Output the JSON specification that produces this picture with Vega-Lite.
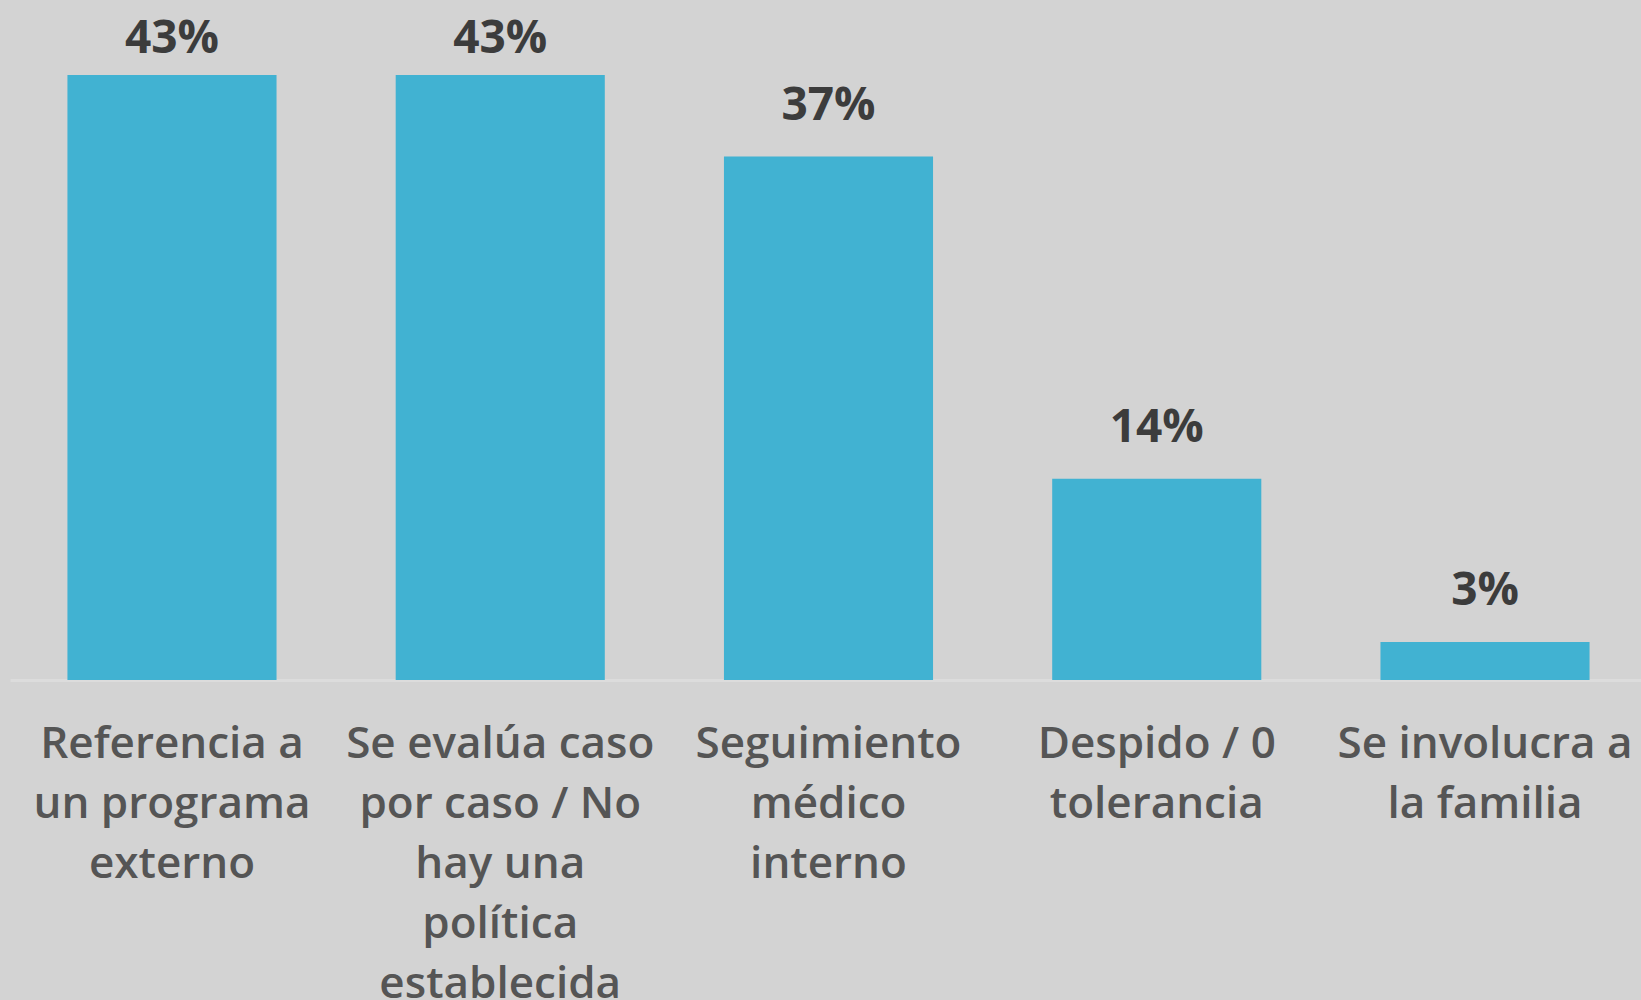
{
  "$schema": "https://vega.github.io/schema/vega-lite/v6.json",
  "width": 1637,
  "height": 680,
  "autosize": {"type": "none"},
  "padding": {"left": 10, "top": 0, "right": 0, "bottom": 320},
  "background": "#d3d3d3",
  "config": {"view": {"stroke": null}, "font": "Open Sans"},
  "data": {
    "values": [
      {"cat": "Referencia a|un programa|externo", "pct": 0.43},
      {"cat": "Se evalúa caso|por caso / No|hay una|política|establecida", "pct": 0.43},
      {"cat": "Seguimiento|médico|interno", "pct": 0.372},
      {"cat": "Despido / 0|tolerancia", "pct": 0.143},
      {"cat": "Se involucra a|la familia", "pct": 0.027}
    ]
  },
  "encoding": {
    "x": {
      "field": "cat",
      "type": "nominal",
      "sort": null,
      "scale": {"paddingInner": 0.363, "paddingOuter": 0.175},
      "axis": {
        "title": null,
        "labelAngle": 0,
        "labelExpr": "split(datum.label, '|')",
        "labelFont": "Open Sans",
        "labelFontWeight": 600,
        "labelFontSize": 44,
        "labelLineHeight": 60,
        "labelColor": "#555555",
        "labelPadding": 42,
        "labelBaseline": "top",
        "ticks": false,
        "domainColor": "#dcdcdc",
        "domainWidth": 3,
        "labelLimit": 0,
        "labelOverlap": false
      }
    },
    "y": {
      "field": "pct",
      "type": "quantitative",
      "scale": {"domain": [0, 0.4833], "nice": false, "zero": true},
      "axis": null
    }
  },
  "layer": [
    {"mark": {"type": "bar", "color": "#41b2d2"}},
    {
      "transform": [{"filter": "datum.pct < 0.4"}],
      "mark": {
        "type": "text",
        "baseline": "alphabetic",
        "dy": -37,
        "font": "Open Sans",
        "fontWeight": "bold",
        "fontSize": 46,
        "color": "#3c3c3c"
      },
      "encoding": {"text": {"field": "pct", "type": "quantitative", "format": ".0%"}}
    },
    {
      "transform": [{"filter": "datum.pct >= 0.4"}],
      "mark": {
        "type": "text",
        "baseline": "alphabetic",
        "dy": -22,
        "font": "Open Sans",
        "fontWeight": "bold",
        "fontSize": 46,
        "color": "#3c3c3c"
      },
      "encoding": {"text": {"field": "pct", "type": "quantitative", "format": ".0%"}}
    }
  ]
}
